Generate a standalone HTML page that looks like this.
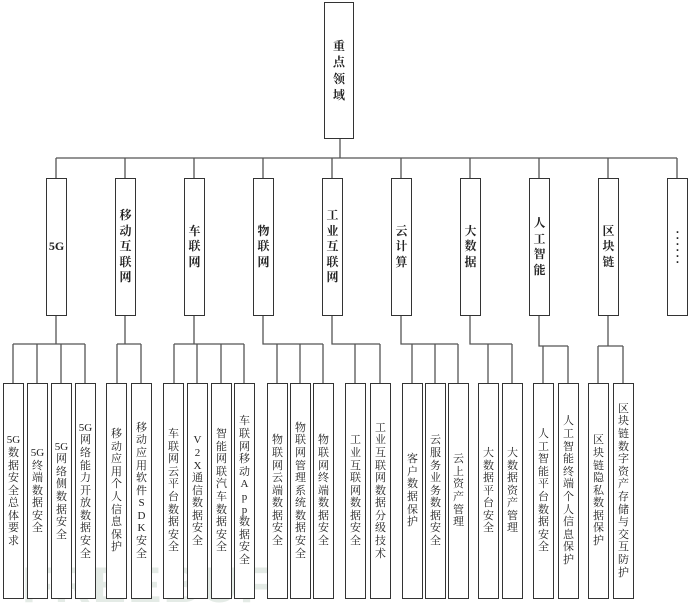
<!DOCTYPE html>
<html><head><meta charset="utf-8"><style>
html,body{margin:0;padding:0;background:#fff;}
body{width:690px;height:604px;position:relative;overflow:hidden;font-family:"Liberation Serif","Noto Serif CJK SC","Noto Sans CJK SC",serif;color:#222;}
.b{position:absolute;box-sizing:border-box;border:1.5px solid #333;background:#fff;display:flex;align-items:center;justify-content:center;text-align:center;}
.c{top:178px;height:138px;width:21px;font-size:12px;line-height:15.5px;font-weight:bold;}
.k{top:383px;height:216px;width:21px;font-size:11px;line-height:12.6px;}
.wm{position:absolute;left:22px;top:556px;font-family:"Liberation Sans",sans-serif;font-weight:bold;font-size:50px;color:#e4ebe6;letter-spacing:2px;}
</style></head><body>
<div class="wm">FREEBUF</div>
<svg width="690" height="604" style="position:absolute;left:0;top:0" stroke="#555" stroke-width="1.3" fill="none">
<path d="M340 138V158M56 158H677"/>
<path d="M56 158V178M125 158V178M194 158V178M263 158V178M332 158V178M401 158V178M470 158V178M539 158V178M608 158V178M677 158V178"/>
<path d="M56 316V344M13 344H85M13 344V383M37 344V383M61 344V383M85 344V383"/>
<path d="M125 316V344M117 344H141M117 344V383M141 344V383"/>
<path d="M194 316V344M174 344H244M174 344V383M197 344V383M221 344V383M244 344V383"/>
<path d="M263 316V344H323M277 344V383M300 344V383M323 344V383"/>
<path d="M332 316V344H380M355 344V383M380 344V383"/>
<path d="M401 316V344H458M412 344V383M435 344V383M458 344V383"/>
<path d="M470 316V344H512M488 344V383M512 344V383"/>
<path d="M539 316V346H568M543 346V383M568 346V383"/>
<path d="M608 316V346M598 346H623M598 346V383M623 346V383"/>
</svg>
<div class="b" style="left:324px;top:2px;width:30px;height:137px;font-size:12px;line-height:16.5px;font-weight:bold;">重<br>点<br>领<br>域</div>

<div class="b c" style="left:46px">5G</div>
<div class="b c" style="left:115px">移<br>动<br>互<br>联<br>网</div>
<div class="b c" style="left:184px">车<br>联<br>网</div>
<div class="b c" style="left:253px">物<br>联<br>网</div>
<div class="b c" style="left:322px">工<br>业<br>互<br>联<br>网</div>
<div class="b c" style="left:391px">云<br>计<br>算</div>
<div class="b c" style="left:460px">大<br>数<br>据</div>
<div class="b c" style="left:529px">人<br>工<br>智<br>能</div>
<div class="b c" style="left:598px">区<br>块<br>链</div>
<div class="b c" style="left:667px;line-height:6px">·<br>·<br>·<br>·<br>·<br>·</div>

<div class="b k" style="left:3px">5G<br>数<br>据<br>安<br>全<br>总<br>体<br>要<br>求</div>
<div class="b k" style="left:27px">5G<br>终<br>端<br>数<br>据<br>安<br>全</div>
<div class="b k" style="left:51px">5G<br>网<br>络<br>侧<br>数<br>据<br>安<br>全</div>
<div class="b k" style="left:75px">5G<br>网<br>络<br>能<br>力<br>开<br>放<br>数<br>据<br>安<br>全</div>
<div class="b k" style="left:106px">移<br>动<br>应<br>用<br>个<br>人<br>信<br>息<br>保<br>护</div>
<div class="b k" style="left:131px">移<br>动<br>应<br>用<br>软<br>件<br>S<br>D<br>K<br>安<br>全</div>
<div class="b k" style="left:163px">车<br>联<br>网<br>云<br>平<br>台<br>数<br>据<br>安<br>全</div>
<div class="b k" style="left:187px">V<br>2<br>X<br>通<br>信<br>数<br>据<br>安<br>全</div>
<div class="b k" style="left:211px">智<br>能<br>网<br>联<br>汽<br>车<br>数<br>据<br>安<br>全</div>
<div class="b k" style="left:234px">车<br>联<br>网<br>移<br>动<br>A<br>p<br>p<br>数<br>据<br>安<br>全</div>
<div class="b k" style="left:267px">物<br>联<br>网<br>云<br>端<br>数<br>据<br>安<br>全</div>
<div class="b k" style="left:290px">物<br>联<br>网<br>管<br>理<br>系<br>统<br>数<br>据<br>安<br>全</div>
<div class="b k" style="left:313px">物<br>联<br>网<br>终<br>端<br>数<br>据<br>安<br>全</div>
<div class="b k" style="left:345px">工<br>业<br>互<br>联<br>网<br>数<br>据<br>安<br>全</div>
<div class="b k" style="left:370px">工<br>业<br>互<br>联<br>网<br>数<br>据<br>分<br>级<br>技<br>术</div>
<div class="b k" style="left:402px">客<br>户<br>数<br>据<br>保<br>护</div>
<div class="b k" style="left:425px">云<br>服<br>务<br>业<br>务<br>数<br>据<br>安<br>全</div>
<div class="b k" style="left:448px">云<br>上<br>资<br>产<br>管<br>理</div>
<div class="b k" style="left:478px">大<br>数<br>据<br>平<br>台<br>安<br>全</div>
<div class="b k" style="left:502px">大<br>数<br>据<br>资<br>产<br>管<br>理</div>
<div class="b k" style="left:533px">人<br>工<br>智<br>能<br>平<br>台<br>数<br>据<br>安<br>全</div>
<div class="b k" style="left:558px">人<br>工<br>智<br>能<br>终<br>端<br>个<br>人<br>信<br>息<br>保<br>护</div>
<div class="b k" style="left:588px">区<br>块<br>链<br>隐<br>私<br>数<br>据<br>保<br>护</div>
<div class="b k" style="left:613px">区<br>块<br>链<br>数<br>字<br>资<br>产<br>存<br>储<br>与<br>交<br>互<br>防<br>护</div>
</body></html>
